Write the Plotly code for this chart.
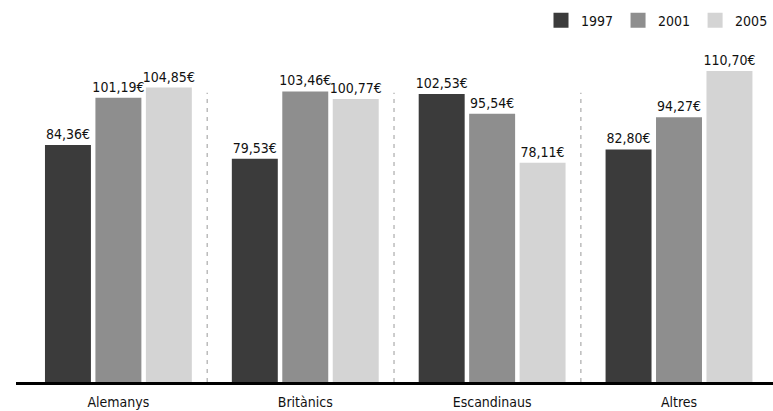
import plotly.graph_objects as go

categories = ["Alemanys", "Britànics", "Escandinaus", "Altres"]
years = ["1997", "2001", "2005"]
values_1997 = [84.36, 79.53, 102.53, 82.80]
values_2001 = [101.19, 103.46, 95.54, 94.27]
values_2005 = [104.85, 100.77, 78.11, 110.70]
colors = ["#3b3b3b", "#8e8e8e", "#d4d4d4"]

FONT = "DejaVu Sans Condensed, Liberation Sans Narrow, Roboto, sans-serif"

def fmt(v):
    return f"{v:.2f}".replace(".", ",") + "€"

fig = go.Figure()
for name, vals, col in zip(years, [values_1997, values_2001, values_2005], colors):
    fig.add_trace(go.Bar(
        x=list(range(len(categories))), y=vals, name=name,
        marker=dict(color=col, line=dict(width=0)),
        text=[fmt(v) for v in vals], textposition="outside",
        textfont=dict(family=FONT, size=14, color="#111"),
        constraintext="none", cliponaxis=False, showlegend=False,
        hoverinfo="skip",
    ))
# legend proxies (square swatches)
for name, col in zip(years, colors):
    fig.add_trace(go.Scatter(
        x=[None], y=[None], mode="markers", name=name,
        marker=dict(symbol="square", size=15, color=col, line=dict(width=0)),
        showlegend=True,
    ))

for i in range(len(categories) - 1):
    fig.add_shape(type="line", xref="x", yref="y",
                  x0=i + 0.475, x1=i + 0.475, y0=0, y1=103,
                  line=dict(color="#9a9a9a", width=1, dash="4px,5px"),
                  layer="below")

fig.update_layout(
    width=773, height=411,
    margin=dict(l=16, r=0, t=45, b=29),
    paper_bgcolor="white", plot_bgcolor="white",
    barmode="group", bargap=0.19, bargroupgap=0.089,
    font=dict(family=FONT, size=14, color="#111"),
    showlegend=True,
    legend=dict(orientation="h", x=1.0, xanchor="right", y=1.12, yanchor="top",
                font=dict(family=FONT, size=14, color="#111"),
                traceorder="normal", itemwidth=30),
    xaxis=dict(tickmode="array", tickvals=list(range(len(categories))),
               ticktext=categories, range=[-0.548, 3.503],
               showgrid=False, zeroline=False,
               showline=True, linecolor="#000", linewidth=2.5,
               ticks="outside", ticklen=5, tickcolor="rgba(0,0,0,0)",
               tickfont=dict(family=FONT, size=14, color="#111")),
    yaxis=dict(range=[0, 120], visible=False, showgrid=False, zeroline=False),
)

fig.write_html("out.html", config={"displayModeBar": False},
               post_script="document.body.style.margin='0';document.body.style.padding='0';")
